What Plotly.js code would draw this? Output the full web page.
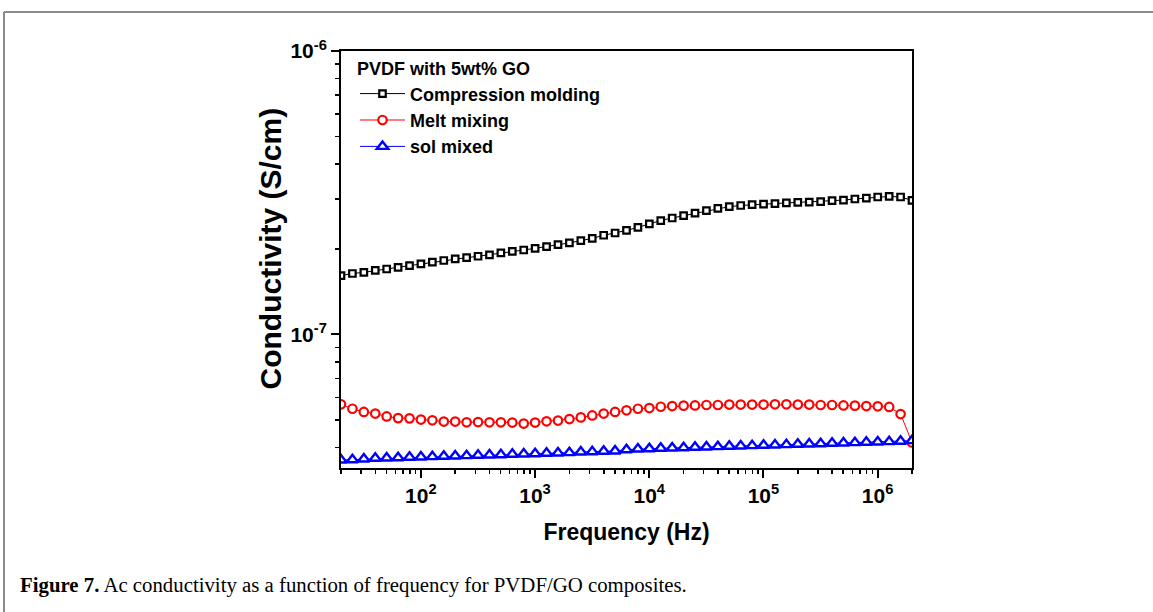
<!DOCTYPE html>
<html>
<head>
<meta charset="utf-8">
<script src="https://cdn.plot.ly/plotly-3.0.1.min.js"></script>
<style>
html,body{margin:0;padding:0;background:#fff;}
#chart{width:1153px;height:612px;}
</style>
</head>
<body>
<div id="chart"></div>
<script>
// Frequency (Hz)
const frequency = [
  20, 25.18, 31.70, 39.91, 50.24, 63.25, 79.62, 100.2, 126.2, 158.9,
  200, 251.8, 317.0, 399.1, 502.4, 632.5, 796.2, 1002, 1262, 1589,
  2000, 2518, 3170, 3991, 5024, 6325, 7962, 10024, 12619, 15887,
  20000, 25179, 31698, 39905, 50238, 63246, 79621, 100237, 126191, 158866,
  200000, 251785, 316979, 399052, 502377, 632456, 796214, 1002374, 1261915, 1588656,
  2000000
];
// Conductivity (S/cm)
const compressionMolding = [
  1.614e-7, 1.641e-7, 1.656e-7, 1.683e-7, 1.702e-7, 1.726e-7, 1.750e-7, 1.774e-7, 1.799e-7, 1.824e-7,
  1.849e-7, 1.866e-7, 1.888e-7, 1.910e-7, 1.941e-7, 1.963e-7, 1.986e-7, 2.014e-7, 2.042e-7, 2.075e-7,
  2.104e-7, 2.143e-7, 2.183e-7, 2.239e-7, 2.280e-7, 2.328e-7, 2.388e-7, 2.455e-7, 2.523e-7, 2.576e-7,
  2.624e-7, 2.679e-7, 2.735e-7, 2.786e-7, 2.825e-7, 2.851e-7, 2.871e-7, 2.884e-7, 2.897e-7, 2.911e-7,
  2.924e-7, 2.931e-7, 2.944e-7, 2.965e-7, 2.979e-7, 3.006e-7, 3.027e-7, 3.055e-7, 3.069e-7, 3.055e-7,
  2.972e-7
];
const meltMixing = [
  5.67e-8, 5.47e-8, 5.33e-8, 5.26e-8, 5.14e-8, 5.07e-8, 5.06e-8, 5.01e-8, 4.98e-8, 4.93e-8,
  4.93e-8, 4.90e-8, 4.91e-8, 4.90e-8, 4.90e-8, 4.89e-8, 4.85e-8, 4.89e-8, 4.94e-8, 4.97e-8,
  5.03e-8, 5.10e-8, 5.18e-8, 5.26e-8, 5.33e-8, 5.40e-8, 5.47e-8, 5.50e-8, 5.56e-8, 5.59e-8,
  5.61e-8, 5.62e-8, 5.64e-8, 5.64e-8, 5.66e-8, 5.66e-8, 5.66e-8, 5.66e-8, 5.67e-8, 5.67e-8,
  5.66e-8, 5.66e-8, 5.64e-8, 5.64e-8, 5.62e-8, 5.61e-8, 5.59e-8, 5.58e-8, 5.55e-8, 5.24e-8,
  4.16e-8
];
const solMixed = [
  3.607e-8, 3.617e-8, 3.637e-8, 3.658e-8, 3.667e-8, 3.676e-8, 3.688e-8, 3.697e-8, 3.707e-8, 3.719e-8,
  3.727e-8, 3.737e-8, 3.749e-8, 3.758e-8, 3.767e-8, 3.779e-8, 3.789e-8, 3.797e-8, 3.811e-8, 3.819e-8,
  3.829e-8, 3.850e-8, 3.860e-8, 3.873e-8, 3.882e-8, 3.920e-8, 3.946e-8, 3.955e-8, 3.968e-8, 3.977e-8,
  3.987e-8, 4.000e-8, 4.010e-8, 4.020e-8, 4.033e-8, 4.043e-8, 4.053e-8, 4.066e-8, 4.076e-8, 4.086e-8,
  4.099e-8, 4.110e-8, 4.119e-8, 4.133e-8, 4.143e-8, 4.153e-8, 4.166e-8, 4.177e-8, 4.187e-8, 4.201e-8,
  4.221e-8
];
const seriesNames = ["Compression molding", "Melt mixing", "sol mixed"];
const legendTitle = "PVDF with 5wt% GO";
const xTickVals = [1e2, 1e3, 1e4, 1e5, 1e6];
const xTickText = ["10<sup>2</sup>", "10<sup>3</sup>", "10<sup>4</sup>", "10<sup>5</sup>", "10<sup>6</sup>"];
const yTickVals = [1e-7, 1e-6];
const yTickText = ["10<sup>-7</sup>", "10<sup>-6</sup>"];
const xTitle = "Frequency (Hz)";
const yTitle = "Conductivity (S/cm)";
const caption = "<b>Figure 7.</b> Ac conductivity as a function of frequency for PVDF/GO composites.";

// minor tick positions (2..9 within each decade)
const xMinor = [], yMinor = [];
for (let e = 1; e <= 6; e++) for (let m = 2; m <= 9; m++) xMinor.push(m * Math.pow(10, e));
for (let e = -8; e <= -7; e++) for (let m = 2; m <= 9; m++) yMinor.push(m * Math.pow(10, e));

const W = 1153, H = 612, L = 341, R = 912, T = 51, B = 468;
const pw = R - L, ph = B - T;
const px = x => (x - L) / pw;
const py = y => (B - y) / ph;

const FONT = "Liberation Sans, Arial, Helvetica, sans-serif";
const b = s => "<b>" + s + "</b>";

const traces = [
  {x: frequency, y: compressionMolding, name: b(seriesNames[0]), type: "scatter", mode: "lines+markers",
   line: {color: "#000000", width: 1},
   marker: {symbol: "square", size: 6.5, color: "#ffffff", line: {color: "#000000", width: 2.2}}},
  {x: frequency, y: meltMixing, name: b(seriesNames[1]), type: "scatter", mode: "lines+markers",
   line: {color: "#ff0000", width: 1},
   marker: {symbol: "circle", size: 8.5, color: "#ffffff", line: {color: "#ff0000", width: 2.2}}},
  {x: frequency, y: solMixed, name: b(seriesNames[2]), type: "scatter", mode: "lines+markers",
   line: {color: "#0000ff", width: 1},
   marker: {symbol: "triangle-up", size: 10, color: "#ffffff", line: {color: "#0000ff", width: 2.4}}}
];

const layout = {
  width: W, height: H,
  margin: {l: L, r: W - R, t: T, b: H - B, pad: 0},
  paper_bgcolor: "#ffffff", plot_bgcolor: "#ffffff",
  font: {family: FONT, color: "#000000"},
  showlegend: true,
  legend: {
    x: px(355), y: py(52), xanchor: "left", yanchor: "top",
    bgcolor: "rgba(0,0,0,0)", borderwidth: 0,
    font: {family: FONT, size: 18, color: "#000000"},
    title: {text: b(legendTitle), side: "top", font: {family: FONT, size: 18, color: "#000000"}},
    itemwidth: 45, tracegroupgap: 0
  },
  xaxis: {
    type: "log", range: [Math.log10(20), Math.log10(2e6)],
    showline: true, linecolor: "#000000", linewidth: 2, mirror: true,
    showgrid: false, zeroline: false,
    tickmode: "array", tickvals: xTickVals, ticktext: xTickText.map(b),
    ticks: "outside", ticklen: 8, tickwidth: 2, tickcolor: "#000000",
    tickfont: {family: FONT, size: 21, color: "#000000"},
    minor: {tickmode: "array", tickvals: xMinor, ticks: "outside", ticklen: 4, tickwidth: 1.5, tickcolor: "#000000", showgrid: false},
    title: {text: b(xTitle), font: {family: FONT, size: 23, color: "#000000"}, standoff: 18}
  },
  yaxis: {
    type: "log", range: [-7.471, -6],
    showline: true, linecolor: "#000000", linewidth: 2, mirror: true,
    showgrid: false, zeroline: false,
    tickmode: "array", tickvals: yTickVals, ticktext: yTickText.map(b),
    ticks: "outside", ticklen: 8, tickwidth: 2, tickcolor: "#000000",
    tickfont: {family: FONT, size: 21, color: "#000000"},
    minor: {tickmode: "array", tickvals: yMinor, ticks: "outside", ticklen: 4, tickwidth: 1.5, tickcolor: "#000000", showgrid: false}
  },
  shapes: [
    {type: "line", xref: "paper", yref: "paper", x0: px(4), x1: px(1170), y0: py(12), y1: py(12),
     line: {color: "#8a8a8a", width: 2}},
    {type: "line", xref: "paper", yref: "paper", x0: px(4), x1: px(4), y0: py(12), y1: py(640),
     line: {color: "#8a8a8a", width: 2}}
  ],
  annotations: [
    {text: b(yTitle), xref: "paper", yref: "paper", x: px(270), y: py(248.5), xanchor: "center", yanchor: "middle",
     textangle: -90, showarrow: false, font: {family: FONT, size: 30, color: "#000000"}},
    {text: caption, xref: "paper", yref: "paper", x: px(18), y: py(585), xanchor: "left", yanchor: "middle",
     showarrow: false, font: {family: "Liberation Serif, Times New Roman, serif", size: 20.8, color: "#000000"}}
  ]
};

Plotly.newPlot("chart", traces, layout, {displayModeBar: false, staticPlot: true});
</script>
</body>
</html>
